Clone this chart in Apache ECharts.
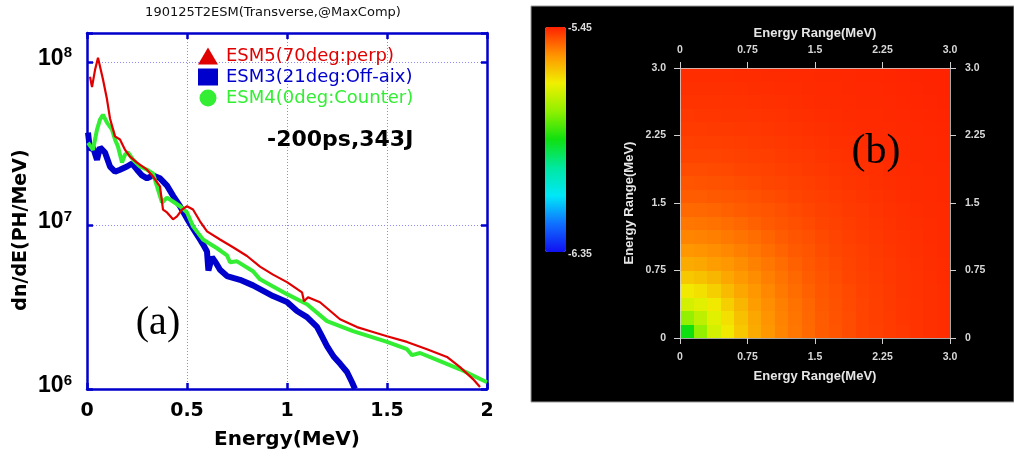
<!DOCTYPE html>
<html>
<head>
<meta charset="UTF-8"/>
<title>ESM spectra</title>
<script src="https://cdn.jsdelivr.net/npm/echarts@6.0.0/dist/echarts.min.js"></script>
<style>
html,body{margin:0;padding:0;background:#fff;}
#main{width:1014px;height:457px;}
</style>
</head>
<body>
<div id="main"></div>
<script>
// (a) spectra, energy in MeV, dn/dE in PH/MeV
var esm5E = [0.015,0.025,0.04,0.055,0.08,0.10,0.115,0.14,0.165,0.19,0.215,0.25,0.30,0.33,0.365,0.38,0.40,0.43,0.45,0.475,0.50,0.53,0.565,0.60,0.665,0.73,0.80,0.865,0.93,1.0,1.075,1.085,1.105,1.165,1.265,1.35,1.43,1.5,1.6,1.7,1.8,1.865,1.93,1.965];
var esm5V = [8.1e7,7.0e7,8.9e7,1.06e8,7.8e7,5.9e7,4.5e7,3.5e7,3.35e7,2.9e7,2.63e7,2.42e7,2.19e7,1.99e7,1.73e7,1.25e7,1.2e7,1.09e7,1.135e7,1.25e7,1.31e7,1.25e7,1.06e7,9.2e6,8.2e6,7.35e6,6.5e6,5.6e6,5.0e6,4.5e6,3.9e6,3.44e6,3.64e6,3.39e6,2.67e6,2.39e6,2.23e6,2.1e6,1.94e6,1.75e6,1.57e6,1.36e6,1.15e6,1.03e6];

var esm3E = [0.005,0.015,0.03,0.05,0.065,0.09,0.115,0.14,0.165,0.20,0.225,0.25,0.275,0.30,0.33,0.365,0.40,0.43,0.465,0.50,0.53,0.565,0.58,0.60,0.607,0.625,0.645,0.665,0.70,0.765,0.83,0.93,1.0,1.05,1.10,1.15,1.175,1.20,1.233,1.267,1.30,1.325,1.34];
var esm3V = [3.69e7,2.9e7,3.0e7,2.52e7,3.0e7,2.79e7,2.29e7,2.13e7,2.19e7,2.29e7,2.39e7,2.19e7,2.02e7,1.94e7,2.02e7,1.94e7,1.75e7,1.52e7,1.31e7,1.1e7,9.6e6,8.2e6,7.66e6,6.93e6,5.3e6,6.4e6,5.9e6,5.35e6,4.9e6,4.65e6,4.3e6,3.7e6,3.4e6,3.0e6,2.75e6,2.4e6,2.1e6,1.83e6,1.58e6,1.42e6,1.27e6,1.1e6,1.0e6];

var esm4E = [0.005,0.015,0.03,0.05,0.065,0.08,0.10,0.125,0.14,0.155,0.175,0.19,0.205,0.23,0.265,0.30,0.33,0.35,0.375,0.40,0.43,0.465,0.50,0.53,0.58,0.65,0.70,0.715,0.75,0.83,0.865,1.0,1.10,1.20,1.33,1.50,1.60,1.625,1.665,1.765,1.865,2.0];
var esm4V = [3.2e7,3.2e7,2.9e7,3.85e7,4.43e7,4.75e7,4.25e7,3.85e7,3.35e7,3.03e7,2.42e7,2.71e7,2.79e7,2.52e7,2.29e7,2.19e7,2.08e7,1.73e7,1.38e7,1.48e7,1.4e7,1.31e7,1.2e7,9.86e6,8.2e6,7.25e6,6.56e6,5.95e6,6.03e6,5.25e6,4.68e6,3.8e6,3.3e6,2.6e6,2.26e6,1.94e6,1.75e6,1.61e6,1.66e6,1.48e6,1.32e6,1.1e6];

var seriesNames = ['ESM5(70deg:perp)', 'ESM3(21deg:Off-aix)', 'ESM4(0deg:Counter)'];

// (b) map, cell centres in MeV (0.15 wide), rows from bottom (y=0) to top (y=3)
var cellCenters = [0.075,0.225,0.375,0.525,0.675,0.825,0.975,1.125,1.275,1.425,1.575,1.725,1.875,2.025,2.175,2.325,2.475,2.625,2.775,2.925];
var cellSize = 0.15;
var heatRows = [
  [-5.900,-5.785,-5.710,-5.667,-5.626,-5.591,-5.566,-5.548,-5.533,-5.520,-5.507,-5.499,-5.491,-5.484,-5.480,-5.475,-5.471,-5.467,-5.464,-5.461],
  [-5.785,-5.735,-5.694,-5.655,-5.617,-5.585,-5.563,-5.546,-5.532,-5.519,-5.506,-5.498,-5.491,-5.484,-5.479,-5.475,-5.470,-5.467,-5.464,-5.461],
  [-5.710,-5.694,-5.667,-5.635,-5.604,-5.574,-5.558,-5.542,-5.529,-5.516,-5.504,-5.497,-5.489,-5.483,-5.479,-5.474,-5.470,-5.467,-5.464,-5.461],
  [-5.667,-5.655,-5.635,-5.610,-5.585,-5.566,-5.551,-5.536,-5.524,-5.512,-5.502,-5.495,-5.488,-5.482,-5.478,-5.474,-5.469,-5.466,-5.464,-5.461],
  [-5.626,-5.617,-5.604,-5.585,-5.569,-5.556,-5.542,-5.530,-5.519,-5.507,-5.499,-5.492,-5.485,-5.481,-5.477,-5.472,-5.469,-5.466,-5.463,-5.460],
  [-5.591,-5.585,-5.574,-5.566,-5.556,-5.544,-5.533,-5.523,-5.512,-5.503,-5.496,-5.489,-5.484,-5.479,-5.475,-5.471,-5.468,-5.465,-5.462,-5.460],
  [-5.566,-5.563,-5.558,-5.551,-5.542,-5.533,-5.524,-5.515,-5.505,-5.499,-5.492,-5.486,-5.482,-5.478,-5.474,-5.470,-5.467,-5.464,-5.461,-5.459],
  [-5.548,-5.546,-5.542,-5.536,-5.530,-5.523,-5.515,-5.506,-5.500,-5.494,-5.488,-5.483,-5.479,-5.475,-5.472,-5.468,-5.466,-5.463,-5.460,-5.459],
  [-5.533,-5.532,-5.529,-5.524,-5.519,-5.512,-5.505,-5.500,-5.495,-5.489,-5.484,-5.481,-5.477,-5.473,-5.470,-5.467,-5.464,-5.462,-5.460,-5.458],
  [-5.520,-5.519,-5.516,-5.512,-5.507,-5.503,-5.499,-5.494,-5.489,-5.485,-5.481,-5.478,-5.474,-5.471,-5.468,-5.465,-5.463,-5.460,-5.459,-5.458],
  [-5.507,-5.506,-5.504,-5.502,-5.499,-5.496,-5.492,-5.488,-5.484,-5.481,-5.478,-5.475,-5.472,-5.469,-5.466,-5.464,-5.461,-5.459,-5.458,-5.457],
  [-5.499,-5.498,-5.497,-5.495,-5.492,-5.489,-5.486,-5.483,-5.481,-5.478,-5.475,-5.472,-5.469,-5.467,-5.464,-5.462,-5.460,-5.459,-5.458,-5.457],
  [-5.491,-5.491,-5.489,-5.488,-5.485,-5.484,-5.482,-5.479,-5.477,-5.474,-5.472,-5.469,-5.467,-5.465,-5.463,-5.460,-5.459,-5.458,-5.457,-5.456],
  [-5.484,-5.484,-5.483,-5.482,-5.481,-5.479,-5.478,-5.475,-5.473,-5.471,-5.469,-5.467,-5.465,-5.463,-5.461,-5.459,-5.458,-5.457,-5.456,-5.455],
  [-5.480,-5.479,-5.479,-5.478,-5.477,-5.475,-5.474,-5.472,-5.470,-5.468,-5.466,-5.464,-5.463,-5.461,-5.459,-5.458,-5.458,-5.457,-5.456,-5.455],
  [-5.475,-5.475,-5.474,-5.474,-5.472,-5.471,-5.470,-5.468,-5.467,-5.465,-5.464,-5.462,-5.460,-5.459,-5.458,-5.458,-5.457,-5.456,-5.455,-5.454],
  [-5.471,-5.470,-5.470,-5.469,-5.469,-5.468,-5.467,-5.466,-5.464,-5.463,-5.461,-5.460,-5.459,-5.458,-5.458,-5.457,-5.456,-5.455,-5.454,-5.453],
  [-5.467,-5.467,-5.467,-5.466,-5.466,-5.465,-5.464,-5.463,-5.462,-5.460,-5.459,-5.459,-5.458,-5.457,-5.457,-5.456,-5.455,-5.454,-5.453,-5.452],
  [-5.464,-5.464,-5.464,-5.464,-5.463,-5.462,-5.461,-5.460,-5.460,-5.459,-5.458,-5.458,-5.457,-5.456,-5.456,-5.455,-5.454,-5.453,-5.452,-5.451],
  [-5.461,-5.461,-5.461,-5.461,-5.460,-5.460,-5.459,-5.459,-5.458,-5.458,-5.457,-5.457,-5.456,-5.455,-5.455,-5.454,-5.453,-5.452,-5.451,-5.451]
];
var colorMin = -6.35, colorMax = -5.45;

function pairs(xs, ys) {
  return xs.map(function (x, i) { return [x, ys[i]]; });
}
var heatData = [];
heatRows.forEach(function (row, yi) {
  row.forEach(function (v, xi) { heatData.push([cellCenters[xi], cellCenters[yi], v]); });
});

// 10^n labels for the log axis, blank for the odd top tick
function powLabel(v) {
  var e = Math.round(Math.log10(v));
  if (Math.abs(v / Math.pow(10, e) - 1) > 1e-6) return '';
  return '{b|10}{s|' + e + '}';
}
function rangeLabel(v) {
  return v === 3 ? '3.0' : String(v);
}

// one map cell, snapped to whole pixels so neighbours meet without seams
function renderCell(params, api) {
  var h = cellSize / 2;
  var p0 = api.coord([api.value(0) - h, api.value(1) + h]);
  var p1 = api.coord([api.value(0) + h, api.value(1) - h]);
  var x0 = Math.round(p0[0]), y0 = Math.round(p0[1]);
  var x1 = Math.round(p1[0]), y1 = Math.round(p1[1]);
  return {
    type: 'rect',
    shape: {x: x0, y: y0, width: x1 - x0, height: y1 - y0},
    style: {fill: api.visual('color')}
  };
}

var blue = '#0000cc';
var frameLine = {show: true, onZero: false, lineStyle: {color: blue, width: 2.5}};
var frameTick = {show: true, inside: true, length: 6, lineStyle: {color: blue, width: 2.5}};
var dots = {show: true, lineStyle: {color: '#8a8af2', width: 1, type: [1, 2]}};

var darkLine = {show: true, onZero: false, lineStyle: {color: '#cfcfcf', width: 1, opacity: 0.8}};
var darkTick = {show: true, length: 6, lineStyle: {color: '#cfcfcf', width: 1}};
var darkLabel = {color: '#d8d8d8', fontFamily: 'Liberation Sans', fontWeight: 'bold', fontSize: 10.5, formatter: rangeLabel};
var darkName = {color: '#e6e6e6', fontFamily: 'Liberation Sans', fontWeight: 'bold', fontSize: 13};

var chart = echarts.init(document.getElementById('main'));
var option = {
  animation: false,
  backgroundColor: '#fff',
  grid: [
    {left: 87, top: 33, width: 400, height: 356, outerBoundsMode: 'none'},
    {left: 680, top: 68, width: 270, height: 270, outerBoundsMode: 'none'}
  ],
  xAxis: [
    {
      type: 'value', gridIndex: 0, min: 0, max: 2, interval: 0.5,
      axisLine: frameLine, axisTick: frameTick, splitLine: dots,
      axisLabel: {color: '#000', fontFamily: 'DejaVu Sans', fontWeight: 'bold', fontSize: 19, margin: 13},
      name: 'Energy(MeV)', nameLocation: 'middle', nameGap: 41,
      nameTextStyle: {color: '#000', fontFamily: 'DejaVu Sans', fontWeight: 'bold', fontSize: 20}
    },
    {
      type: 'value', gridIndex: 0, position: 'top', min: 0, max: 2, interval: 0.5,
      axisLine: frameLine, axisTick: frameTick, splitLine: {show: false}, axisLabel: {show: false}
    },
    {
      type: 'value', gridIndex: 1, min: 0, max: 3, interval: 0.75, z: 5,
      axisLine: darkLine, axisTick: darkTick, splitLine: {show: false},
      axisLabel: Object.assign({margin: 14}, darkLabel),
      name: 'Energy Range(MeV)', nameLocation: 'middle', nameGap: 32, nameTextStyle: darkName
    },
    {
      type: 'value', gridIndex: 1, position: 'top', min: 0, max: 3, interval: 0.75, z: 5,
      axisLine: darkLine, axisTick: darkTick, splitLine: {show: false},
      axisLabel: Object.assign({margin: 12}, darkLabel),
      name: 'Energy Range(MeV)', nameLocation: 'middle', nameGap: 28, nameTextStyle: darkName
    }
  ],
  yAxis: [
    {
      type: 'log', logBase: 10, gridIndex: 0, min: 1e6, max: 1.5e8,
      axisLine: frameLine, axisTick: frameTick, splitLine: dots, minorTick: {show: false},
      axisLabel: {
        formatter: powLabel, margin: 15, padding: [0, 0, 8, 0], color: '#000',
        rich: {
          b: {fontFamily: 'Liberation Sans', fontWeight: 'bold', fontSize: 23, lineHeight: 24, verticalAlign: 'bottom', color: '#000'},
          s: {fontFamily: 'Liberation Sans', fontWeight: 'bold', fontSize: 15, lineHeight: 12, verticalAlign: 'top', color: '#000'}
        }
      }
    },
    {
      type: 'log', logBase: 10, gridIndex: 0, position: 'right', min: 1e6, max: 1.5e8,
      axisLine: frameLine, axisTick: frameTick, splitLine: {show: false}, axisLabel: {show: false}
    },
    {
      type: 'value', gridIndex: 1, min: 0, max: 3, interval: 0.75, z: 5,
      axisLine: darkLine, axisTick: darkTick, splitLine: {show: false},
      axisLabel: Object.assign({margin: 14}, darkLabel),
      name: 'Energy Range(MeV)', nameLocation: 'middle', nameRotate: 90, nameGap: 44, nameTextStyle: darkName
    },
    {
      type: 'value', gridIndex: 1, position: 'right', min: 0, max: 3, interval: 0.75, z: 5,
      axisLine: darkLine, axisTick: darkTick, splitLine: {show: false},
      axisLabel: Object.assign({margin: 15}, darkLabel)
    }
  ],
  title: {
    text: '190125T2ESM(Transverse,@MaxComp)', left: 273, top: 6, textAlign: 'center', padding: 0,
    textStyle: {color: '#111', fontFamily: 'DejaVu Sans', fontWeight: 'normal', fontSize: 13}
  },
  legend: {
    orient: 'vertical', left: 198, top: 47, padding: 0, itemGap: 3,
    itemWidth: 20, itemHeight: 17, selectedMode: false,
    textStyle: {fontFamily: 'DejaVu Sans', fontSize: 18, lineHeight: 18, padding: [0, 0, 0, 3]},
    data: [
      {name: seriesNames[0], icon: 'triangle', textStyle: {color: '#e00000'}},
      {name: seriesNames[1], icon: 'rect', textStyle: {color: blue}},
      {name: seriesNames[2], icon: 'circle', textStyle: {color: '#33ee33'}}
    ]
  },
  visualMap: {
    type: 'continuous', seriesIndex: 3, dimension: 2, min: colorMin, max: colorMax,
    calculable: false, left: 545, top: 27, padding: 0, itemWidth: 21, itemHeight: 225,
    text: null, showLabel: false,
    inRange: {color: ['#1010f0', '#1070ff', '#00e8f8', '#00e8a0', '#10e010', '#90f000', '#f0f000', '#ff9400', '#ff2200']}
  },
  graphic: [
    {type: 'rect', z: -10, shape: {x: 531, y: 6, width: 483, height: 396},
      style: {fill: '#000', stroke: '#9a9a9a', lineWidth: 1}},
    {type: 'text', x: 568, y: 28, style: {text: String(colorMax), fill: '#dddddd', font: 'bold 10.5px "Liberation Sans"', textAlign: 'left', textVerticalAlign: 'middle'}},
    {type: 'text', x: 568, y: 254, style: {text: String(colorMin), fill: '#dddddd', font: 'bold 10.5px "Liberation Sans"', textAlign: 'left', textVerticalAlign: 'middle'}},
    {type: 'text', x: 876, y: 152, z: 100, style: {text: '(b)', fill: '#000', font: '42px "Liberation Serif"', textAlign: 'center', textVerticalAlign: 'middle'}},
    {type: 'text', x: 158, y: 323, z: 100, style: {text: '(a)', fill: '#000', font: '40px "Liberation Serif"', textAlign: 'center', textVerticalAlign: 'middle'}},
    {type: 'text', x: 267, y: 140, z: 100, style: {text: '-200ps,343J', fill: '#000', font: 'bold 22px "DejaVu Sans"', textAlign: 'left', textVerticalAlign: 'middle'}},
    {type: 'text', x: 21, y: 230, rotation: Math.PI / 2, style: {text: 'dn/dE(PH/MeV)', fill: '#000', font: 'bold 19px "DejaVu Sans"', textAlign: 'center', textVerticalAlign: 'middle'}}
  ],
  series: [
    {
      name: seriesNames[1], type: 'line', xAxisIndex: 0, yAxisIndex: 0, data: pairs(esm3E, esm3V),
      symbol: 'none', silent: true, lineStyle: {color: blue, width: 6}, itemStyle: {color: blue}
    },
    {
      name: seriesNames[2], type: 'line', xAxisIndex: 0, yAxisIndex: 0, data: pairs(esm4E, esm4V),
      symbol: 'none', silent: true, lineStyle: {color: '#33ee33', width: 4}, itemStyle: {color: '#33ee33'}
    },
    {
      name: seriesNames[0], type: 'line', xAxisIndex: 0, yAxisIndex: 0, data: pairs(esm5E, esm5V),
      symbol: 'none', silent: true, lineStyle: {color: '#e00000', width: 2.2}, itemStyle: {color: '#e00000'}
    },
    {
      name: 'map', type: 'custom', xAxisIndex: 2, yAxisIndex: 2, data: heatData,
      encode: {x: 0, y: 1}, renderItem: renderCell, silent: true, z: 2
    }
  ]
};
chart.setOption(option);
</script>
</body>
</html>
